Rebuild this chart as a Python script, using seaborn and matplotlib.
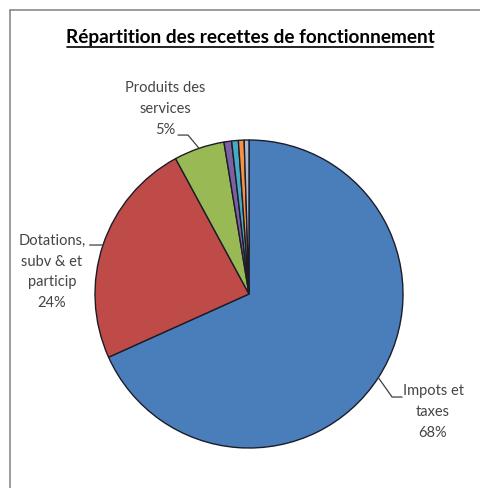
import numpy as np
import matplotlib
matplotlib.use("Agg")
import matplotlib.pyplot as plt
from matplotlib.lines import Line2D
import seaborn as sns

# Data
categories = ["Impots et taxes", "Dotations, subv & et particip", "Produits des services",
              "Autre 1", "Autre 2", "Autre 3", "Autre 4"]
values = [68.2, 23.8, 5.3, 0.8, 0.7, 0.6, 0.5]
label_texts = ["Impots et\ntaxes\n68%", "Dotations,\nsubv & et\nparticip\n24%", "Produits des\nservices\n5%"]
colors = ["#4A7EBB", "#BE4B48", "#98B954", "#7D60A0", "#46AAC5", "#F69240", "#A9B8D4"]

sns.set_theme(style="white")
plt.rcParams["font.family"] = ["Lato", "DejaVu Sans"]

W, H = 481, 488
fig = plt.figure(figsize=(W / 100, H / 100), dpi=100)
fig.patch.set_facecolor("white")

# pie axes: center ~ (249, 294) px, radius 154 px
ax = fig.add_axes([95 / W, (H - 448) / H, 308 / W, 308 / H])
ax.pie(values, colors=colors, startangle=90, counterclock=False, radius=1,
       wedgeprops=dict(edgecolor="#1c1c28", linewidth=1.0))
ax.set_xlim(-1, 1)
ax.set_ylim(-1, 1)
ax.set_aspect("equal")
ax.axis("off")

# leader lines and labels (layout: elbow, end, text position)
layout = [
    dict(elbow=(0.929, -0.669), end=(0.994, -0.669), text=(1.195, -0.766)),
    dict(elbow=(-0.96, 0.318), end=(-1.035, 0.318), text=(-1.279, 0.143)),
    dict(elbow=(-0.396, 1.032), end=(-0.461, 1.032), text=(-0.545, 1.201)),
]
fracs = np.array(values) / np.sum(values)
cum = np.cumsum(fracs) - fracs / 2
for i, lay in enumerate(layout):
    ang = np.deg2rad(cum[i] * 360)
    edge = (np.sin(ang), np.cos(ang))
    xs = [edge[0], lay["elbow"][0], lay["end"][0]]
    ys = [edge[1], lay["elbow"][1], lay["end"][1]]
    ax.plot(xs, ys, color="#404040", lw=0.9, clip_on=False)
    ax.text(lay["text"][0], lay["text"][1], label_texts[i], ha="center", va="center",
            fontsize=10.5, color="#454545", linespacing=1.6, clip_on=False)

# title with underline
fig.text(250 / W, 1 - 38 / H, "Répartition des recettes de fonctionnement",
         ha="center", va="center", fontsize=13.7, fontweight="bold", color="black")
fig.add_artist(Line2D([67 / W, 433 / W], [1 - 46.5 / H] * 2, color="black", lw=1.2))

# chart area frame (left and top edges visible)
fig.add_artist(Line2D([9.5 / W, 9.5 / W], [0, 1 - 9.5 / H], color="#8a8a8a", lw=1.2))
fig.add_artist(Line2D([9.5 / W, 1], [1 - 9.5 / H] * 2, color="#8a8a8a", lw=1.2))

fig.savefig("out.png", dpi=100)
